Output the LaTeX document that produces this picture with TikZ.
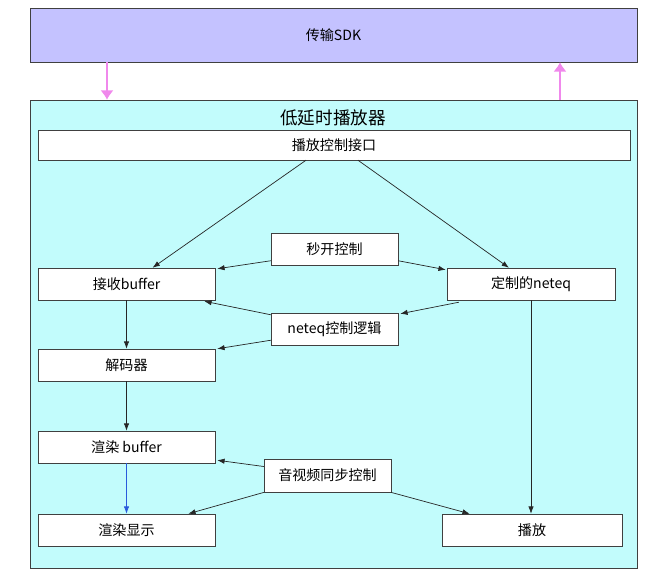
\documentclass[tikz,border=0pt]{standalone}
\usepackage{fontspec}
\setmainfont{Noto Sans CJK SC}
\usepackage{tikz}
\usetikzlibrary{arrows.meta, calc}
\definecolor{sdkcor}{RGB}{196,194,255}
\definecolor{playercor}{RGB}{194,252,252}
\definecolor{pinkcor}{RGB}{240,136,236}
\definecolor{azul}{RGB}{40,90,220}
\tikzset{
    camada/.style = {draw=black!75, thin, inner sep=0pt, font=\fontsize{12}{14}\selectfont},
    modulo/.style = {draw=black!75, fill=white, inner sep=0pt, minimum height=0.96cm,
                     font=\fontsize{12}{14}\selectfont},
    fluxo/.style  = {-{Latex[length=2.2mm,width=1.6mm]}, black!85, semithick},
    sinal/.style  = {-{Latex[length=2.8mm,width=4mm]}, pinkcor, line width=2.3pt},
}

\begin{document}
\begin{tikzpicture}[x=0.03cm, y=-0.03cm]
        \fill[white] (0,0) rectangle (667,580);
        \useasboundingbox (0,0) rectangle (667,580);
        % camadas
        \node[camada, fill=sdkcor, minimum width=18.21cm, minimum height=1.62cm] (sdk) at (333.5,35) {传输SDK};
        \node[camada, fill=playercor, minimum width=18.21cm, minimum height=14.04cm] (player) at (333.5,334) {};
        \node[font=\fontsize{15}{17}\selectfont] (titulo) at (333,118) {低延时播放器};
        \draw[sinal] (sdk.south -| 107,0) -- (player.north -| 107,0);
        \draw[sinal] (player.north -| 560,0) -- (sdk.south -| 560,0);
        % modulos
        \node[modulo, minimum width=17.76cm, minimum height=0.9cm] (iface) at (334,145) {播放控制接口};
        \node[modulo, minimum width=3.81cm] (miaokai) at (334.5,249.5) {秒开控制};
        \node[modulo, minimum width=5.31cm] (recv) at (126.5,284) {接收buffer};
        \node[modulo, minimum width=5.04cm] (neteq) at (531,284) {定制的neteq};
        \node[modulo, minimum width=3.81cm] (logica) at (334.5,329) {neteq控制逻辑};
        \node[modulo, minimum width=5.31cm] (dec) at (126.5,365) {解码器};
        \node[modulo, minimum width=5.31cm] (rbuf) at (126.5,447) {渲染 buffer};
        \node[modulo, minimum width=3.81cm, minimum height=1.0cm] (sync) at (327.5,475.5) {音视频同步控制};
        \node[modulo, minimum width=5.31cm] (disp) at (126.5,530) {渲染显示};
        \node[modulo, minimum width=5.4cm] (play) at (532,530) {播放};
        % ligacoes
        \draw[fluxo] ($(iface.south)+(-28,0)$) -- ($(recv.north)+(26,0)$);
        \draw[fluxo] ($(iface.south)+(24,0)$) -- ($(neteq.north)+(-22,0)$);
        \draw[fluxo] ($(miaokai.south west)+(0,-5)$) -- ($(recv.north east)+(2,1)$);
        \draw[fluxo] ($(miaokai.south east)+(0,-5)$) -- ($(neteq.north west)+(-1,2)$);
        \draw[fluxo] ($(neteq.south west)+(12,2)$) -- ($(logica.north east)+(2,1)$);
        \draw[fluxo] ($(logica.north west)+(0,2)$) -- ($(recv.south east)+(-11,1)$);
        \draw[fluxo] ($(logica.south west)+(0,-5)$) -- ($(dec.north east)+(2,0)$);
        \draw[fluxo] (recv) -- (dec);
        \draw[fluxo] (dec) -- (rbuf);
        \draw[fluxo, azul] (rbuf) -- (disp);
        \draw[fluxo] (neteq.south) -- (neteq.south |- play.north);
        \draw[fluxo] ($(sync.west)+(0,-9)$) -- ($(rbuf.south east)+(2,-3)$);
        \draw[fluxo] (sync.south west) -- ($(disp.north east)+(-27,0)$);
        \draw[fluxo] (sync.south east) -- ($(play.north west)+(28,0)$);
    \end{tikzpicture}
\end{document}
